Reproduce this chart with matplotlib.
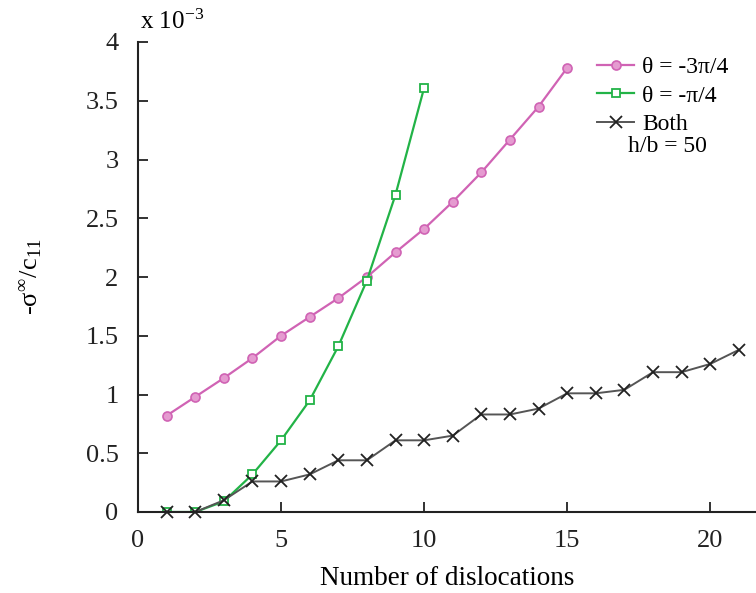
import numpy as np
import matplotlib
matplotlib.use('Agg')
import matplotlib.pyplot as plt

plt.rcParams['font.family'] = ['Liberation Serif', 'DejaVu Serif']
plt.rcParams['mathtext.fontset'] = 'stix'

# values in units of 1e-3
n_a = list(range(1, 16))
sig_a = [0.82, 0.98, 1.14, 1.31, 1.50, 1.66, 1.82, 2.00, 2.21, 2.41, 2.64, 2.89, 3.17, 3.45, 3.78]

n_b = list(range(1, 11))
sig_b = [0.0, 0.0, 0.09, 0.32, 0.61, 0.95, 1.41, 1.97, 2.70, 3.61]

n_both = list(range(1, 22))
sig_both = [0.0, 0.0, 0.10, 0.26, 0.26, 0.32, 0.44, 0.44, 0.61, 0.61, 0.65,
            0.83, 0.83, 0.88, 1.01, 1.01, 1.04, 1.19, 1.19, 1.26, 1.38]

labels = ['θ = -3π/4', 'θ = -π/4', 'Both']
pink = '#d063b4'
green = '#22b347'

fig = plt.figure(figsize=(7.56, 5.93), dpi=100)
ax = fig.add_axes([138 / 756, 1 - 512 / 593, 1 - 138 / 756, (512 - 42) / 593])

ax.plot(n_a, sig_a, '-o', color=pink, lw=1.6, ms=6.5, mfc='#e59bd0', mec=pink, mew=1.2, label=labels[0])
ax.plot(n_b, sig_b, '-s', color=green, lw=1.6, ms=6, mfc='white', mec=green, mew=1.3, label=labels[1])
ax.plot(n_both, sig_both, '-x', color='#555555', lw=1.4, ms=8, mec='#222222', mew=1.3, label=labels[2],
        clip_on=False)

ax.set_xlim(0, 21.6)
ax.set_ylim(0, 4)
ax.set_xticks([0, 5, 10, 15, 20])
ax.set_yticks(np.arange(0, 4.01, 0.5))
ax.set_yticklabels(['%g' % v for v in np.arange(0, 4.01, 0.5)])

for s in ['top', 'right']:
    ax.spines[s].set_visible(False)
for s in ['left', 'bottom']:
    ax.spines[s].set_linewidth(1.5)
    ax.spines[s].set_color('#222222')
ax.tick_params(direction='in', length=7, width=1.3, labelsize=19, colors='#222222')
ax.tick_params(axis='y', pad=14)
ax.tick_params(axis='x', pad=13)

ax.set_xlabel('Number of dislocations', fontsize=19.5, labelpad=10)
ax.set_ylabel(r'-σ$^{\mathregular{∞}}$/c$_{\mathregular{11}}$', fontsize=19)
ax.yaxis.set_label_coords(-0.152, 0.5)
fig.text(140 / 756, 1 - 22 / 593, r'x 10$^{\mathregular{-3}}$', fontsize=18, va='center', ha='left')

leg = ax.legend(loc='upper left', frameon=False, fontsize=17,
                handlelength=1.55, handletextpad=0.35, labelspacing=0.3, borderaxespad=0)
leg.set_bbox_to_anchor((588 / 756, 1 - 47 / 593), transform=fig.transFigure)
fig.text(628 / 756, 1 - 146 / 593, 'h/b = 50', fontsize=17, va='center', ha='left')

fig.savefig('out.png', dpi=100)
